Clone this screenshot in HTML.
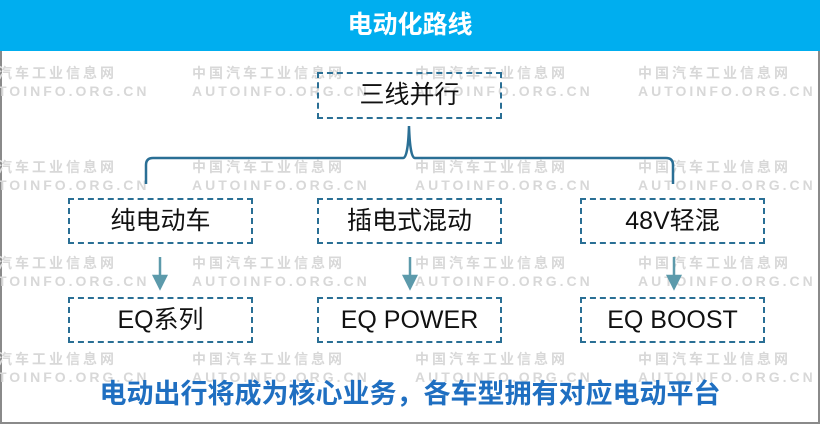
<!DOCTYPE html>
<html><head><meta charset="utf-8"><style>
body{margin:0;width:820px;height:426px;overflow:hidden;background:#fff;font-family:"Liberation Sans","Noto Sans CJK SC",sans-serif;position:relative}
.frame{position:absolute;left:0;top:0;width:816px;height:422px;border:2px solid #8a8a8a;border-top:none}
.hdr{position:absolute;left:0;top:0;width:820px;height:51px;background:#00aeef;color:#fff;font-weight:bold;font-size:25px;text-align:center;line-height:51px}
.wm{position:absolute;color:#d8d8d8;font-weight:bold;font-size:14px;letter-spacing:3px;line-height:18px}
.box{position:absolute;border:2px dashed #2a6f95;box-sizing:border-box;text-align:center;font-size:25px;color:#111}
.bt{position:absolute;left:0;width:820px;top:372px;text-align:center;font-size:27px;font-weight:bold;color:#1f6fc1}
</style></head><body>
<div class="frame"></div>
<div class="hdr">电动化路线</div>
<div class="wm" style="left:-2px;top:64px">汽车工业信息网<br>TOINFO.ORG.CN</div>
<div class="wm" style="left:192px;top:64px">中国汽车工业信息网<br>AUTOINFO.ORG.CN</div>
<div class="wm" style="left:415px;top:64px">中国汽车工业信息网<br>AUTOINFO.ORG.CN</div>
<div class="wm" style="left:638px;top:64px">中国汽车工业信息网<br>AUTOINFO.ORG.CN</div>
<div class="wm" style="left:-2px;top:158px">汽车工业信息网<br>TOINFO.ORG.CN</div>
<div class="wm" style="left:192px;top:158px">中国汽车工业信息网<br>AUTOINFO.ORG.CN</div>
<div class="wm" style="left:415px;top:158px">中国汽车工业信息网<br>AUTOINFO.ORG.CN</div>
<div class="wm" style="left:638px;top:158px">中国汽车工业信息网<br>AUTOINFO.ORG.CN</div>
<div class="wm" style="left:-2px;top:254px">汽车工业信息网<br>TOINFO.ORG.CN</div>
<div class="wm" style="left:192px;top:254px">中国汽车工业信息网<br>AUTOINFO.ORG.CN</div>
<div class="wm" style="left:415px;top:254px">中国汽车工业信息网<br>AUTOINFO.ORG.CN</div>
<div class="wm" style="left:638px;top:254px">中国汽车工业信息网<br>AUTOINFO.ORG.CN</div>
<div class="wm" style="left:-2px;top:350px">汽车工业信息网<br>TOINFO.ORG.CN</div>
<div class="wm" style="left:192px;top:350px">中国汽车工业信息网<br>AUTOINFO.ORG.CN</div>
<div class="wm" style="left:415px;top:350px">中国汽车工业信息网<br>AUTOINFO.ORG.CN</div>
<div class="wm" style="left:638px;top:350px">中国汽车工业信息网<br>AUTOINFO.ORG.CN</div>
<svg style="position:absolute;left:0;top:0" width="820" height="426">
<path d="M146,184 L146,165 Q146,158 153,158 L403,158 Q408,158 409,126 Q410,158 415,158 L666,158 Q673,158 673,165 L673,184" fill="none" stroke="#2a6f95" stroke-width="2.5"/>
<g stroke="#5c9aab" stroke-width="2.5" fill="#5c9aab">
<line x1="160" y1="257" x2="160" y2="278"/><polygon points="154,276 166,276 160,288"/>
<line x1="410" y1="257" x2="410" y2="278"/><polygon points="404,276 416,276 410,288"/>
<line x1="674" y1="257" x2="674" y2="278"/><polygon points="668,276 680,276 674,288"/>
</g></svg>
<div class="box" style="left:317px;top:72px;width:185px;height:47px;line-height:43px">三线并行</div>
<div class="box" style="left:68px;top:198px;width:185px;height:46px;line-height:42px">纯电动车</div>
<div class="box" style="left:317px;top:198px;width:185px;height:46px;line-height:42px">插电式混动</div>
<div class="box" style="left:580px;top:198px;width:185px;height:46px;line-height:42px">48V轻混</div>
<div class="box" style="left:68px;top:297px;width:185px;height:46px;line-height:42px">EQ系列</div>
<div class="box" style="left:317px;top:297px;width:185px;height:46px;line-height:42px">EQ POWER</div>
<div class="box" style="left:580px;top:297px;width:185px;height:46px;line-height:42px">EQ BOOST</div>
<div class="bt">电动出行将成为核心业务，各车型拥有对应电动平台</div>
</body></html>
